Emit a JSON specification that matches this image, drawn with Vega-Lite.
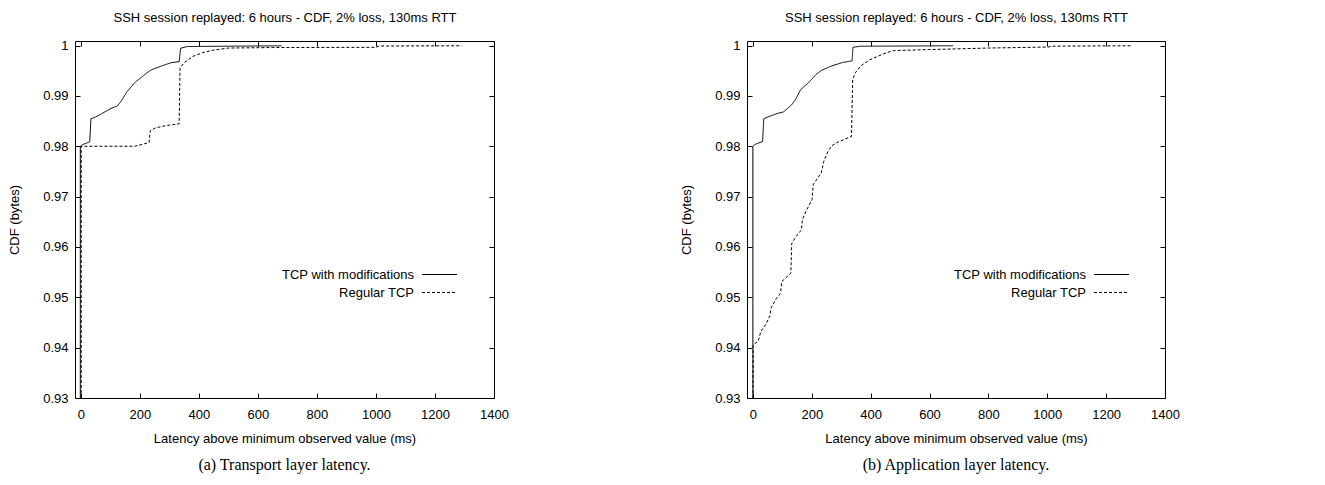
{
  "$schema": "https://vega.github.io/schema/vega-lite/v6.json",
  "background": "white",
  "padding": {"left": 8, "top": 11, "right": 5, "bottom": 5},
  "config": {
    "font": "Liberation Sans",
    "view": {"stroke": "black", "strokeWidth": 1},
    "axis": {"domain": false, "grid": false, "tickColor": "black", "tickSize": -5, "tickWidth": 1, "labelColor": "black", "labelFontSize": 13, "labelFont": "Liberation Sans", "titleFont": "Liberation Sans", "titleFontSize": 13, "titleFontWeight": "normal", "titleColor": "black", "labelFlush": false, "labelOverlap": false},
    "title": {"font": "Liberation Serif", "fontSize": 16, "fontWeight": "normal", "color": "black"},
    "legend": {"orient": "none", "padding": 0, "symbolType": "M-2.5,0H2.5", "symbolSize": 196, "symbolStrokeColor": "black", "symbolStrokeWidth": 1, "symbolFillColor": "transparent", "labelAlign": "right", "labelOffset": -33, "labelFontSize": 13, "labelFont": "Liberation Sans", "labelColor": "black", "rowPadding": 3, "title": null}
  },
  "datasets": {
    "cdf": [
      {"panel": "a", "series": "TCP with modifications", "i": 1, "latency": -2, "cdf": 0.93},
      {"panel": "a", "series": "TCP with modifications", "i": 2, "latency": -2, "cdf": 0.98},
      {"panel": "a", "series": "TCP with modifications", "i": 3, "latency": 5, "cdf": 0.9803},
      {"panel": "a", "series": "TCP with modifications", "i": 4, "latency": 30, "cdf": 0.98088},
      {"panel": "a", "series": "TCP with modifications", "i": 5, "latency": 34, "cdf": 0.98547},
      {"panel": "a", "series": "TCP with modifications", "i": 6, "latency": 50, "cdf": 0.9858},
      {"panel": "a", "series": "TCP with modifications", "i": 7, "latency": 71, "cdf": 0.98649},
      {"panel": "a", "series": "TCP with modifications", "i": 8, "latency": 102, "cdf": 0.9875},
      {"panel": "a", "series": "TCP with modifications", "i": 9, "latency": 124, "cdf": 0.988},
      {"panel": "a", "series": "TCP with modifications", "i": 10, "latency": 138, "cdf": 0.9891},
      {"panel": "a", "series": "TCP with modifications", "i": 11, "latency": 156, "cdf": 0.9908},
      {"panel": "a", "series": "TCP with modifications", "i": 12, "latency": 182, "cdf": 0.9926},
      {"panel": "a", "series": "TCP with modifications", "i": 13, "latency": 218, "cdf": 0.9943},
      {"panel": "a", "series": "TCP with modifications", "i": 14, "latency": 236, "cdf": 0.9951},
      {"panel": "a", "series": "TCP with modifications", "i": 15, "latency": 271, "cdf": 0.9959},
      {"panel": "a", "series": "TCP with modifications", "i": 16, "latency": 307, "cdf": 0.9966},
      {"panel": "a", "series": "TCP with modifications", "i": 17, "latency": 333, "cdf": 0.9968},
      {"panel": "a", "series": "TCP with modifications", "i": 18, "latency": 338, "cdf": 0.99946},
      {"panel": "a", "series": "TCP with modifications", "i": 19, "latency": 360, "cdf": 0.9998},
      {"panel": "a", "series": "TCP with modifications", "i": 20, "latency": 680, "cdf": 0.99995},
      {"panel": "a", "series": "Regular TCP", "i": 1, "latency": 1, "cdf": 0.93},
      {"panel": "a", "series": "Regular TCP", "i": 2, "latency": 1, "cdf": 0.98},
      {"panel": "a", "series": "Regular TCP", "i": 3, "latency": 182, "cdf": 0.98},
      {"panel": "a", "series": "Regular TCP", "i": 4, "latency": 209, "cdf": 0.9804},
      {"panel": "a", "series": "Regular TCP", "i": 5, "latency": 231, "cdf": 0.98074},
      {"panel": "a", "series": "Regular TCP", "i": 6, "latency": 235, "cdf": 0.9831},
      {"panel": "a", "series": "Regular TCP", "i": 7, "latency": 253, "cdf": 0.98365},
      {"panel": "a", "series": "Regular TCP", "i": 8, "latency": 289, "cdf": 0.9841},
      {"panel": "a", "series": "Regular TCP", "i": 9, "latency": 333, "cdf": 0.98446},
      {"panel": "a", "series": "Regular TCP", "i": 10, "latency": 336, "cdf": 0.99561},
      {"panel": "a", "series": "Regular TCP", "i": 11, "latency": 351, "cdf": 0.99662},
      {"panel": "a", "series": "Regular TCP", "i": 12, "latency": 378, "cdf": 0.9978},
      {"panel": "a", "series": "Regular TCP", "i": 13, "latency": 413, "cdf": 0.9986},
      {"panel": "a", "series": "Regular TCP", "i": 14, "latency": 450, "cdf": 0.9991},
      {"panel": "a", "series": "Regular TCP", "i": 15, "latency": 500, "cdf": 0.9995},
      {"panel": "a", "series": "Regular TCP", "i": 16, "latency": 650, "cdf": 0.9996},
      {"panel": "a", "series": "Regular TCP", "i": 17, "latency": 1000, "cdf": 0.99965},
      {"panel": "a", "series": "Regular TCP", "i": 18, "latency": 1010, "cdf": 0.9999},
      {"panel": "a", "series": "Regular TCP", "i": 19, "latency": 1290, "cdf": 0.99995},
      {"panel": "b", "series": "TCP with modifications", "i": 1, "latency": 0, "cdf": 0.93},
      {"panel": "b", "series": "TCP with modifications", "i": 2, "latency": 0, "cdf": 0.98},
      {"panel": "b", "series": "TCP with modifications", "i": 3, "latency": 5, "cdf": 0.9803},
      {"panel": "b", "series": "TCP with modifications", "i": 4, "latency": 33, "cdf": 0.98095},
      {"panel": "b", "series": "TCP with modifications", "i": 5, "latency": 37, "cdf": 0.98547},
      {"panel": "b", "series": "TCP with modifications", "i": 6, "latency": 50, "cdf": 0.9858},
      {"panel": "b", "series": "TCP with modifications", "i": 7, "latency": 82, "cdf": 0.98649},
      {"panel": "b", "series": "TCP with modifications", "i": 8, "latency": 104, "cdf": 0.98682},
      {"panel": "b", "series": "TCP with modifications", "i": 9, "latency": 131, "cdf": 0.98818},
      {"panel": "b", "series": "TCP with modifications", "i": 10, "latency": 144, "cdf": 0.9892},
      {"panel": "b", "series": "TCP with modifications", "i": 11, "latency": 162, "cdf": 0.99122},
      {"panel": "b", "series": "TCP with modifications", "i": 12, "latency": 188, "cdf": 0.99257},
      {"panel": "b", "series": "TCP with modifications", "i": 13, "latency": 215, "cdf": 0.99426},
      {"panel": "b", "series": "TCP with modifications", "i": 14, "latency": 233, "cdf": 0.99507},
      {"panel": "b", "series": "TCP with modifications", "i": 15, "latency": 268, "cdf": 0.99595},
      {"panel": "b", "series": "TCP with modifications", "i": 16, "latency": 304, "cdf": 0.99662},
      {"panel": "b", "series": "TCP with modifications", "i": 17, "latency": 337, "cdf": 0.99696},
      {"panel": "b", "series": "TCP with modifications", "i": 18, "latency": 340, "cdf": 0.99966},
      {"panel": "b", "series": "TCP with modifications", "i": 19, "latency": 366, "cdf": 0.99986},
      {"panel": "b", "series": "TCP with modifications", "i": 20, "latency": 680, "cdf": 0.99995},
      {"panel": "b", "series": "Regular TCP", "i": 1, "latency": 1, "cdf": 0.93},
      {"panel": "b", "series": "Regular TCP", "i": 2, "latency": 1, "cdf": 0.94053},
      {"panel": "b", "series": "Regular TCP", "i": 3, "latency": 18, "cdf": 0.9413},
      {"panel": "b", "series": "Regular TCP", "i": 4, "latency": 27, "cdf": 0.9432},
      {"panel": "b", "series": "Regular TCP", "i": 5, "latency": 45, "cdf": 0.9447},
      {"panel": "b", "series": "Regular TCP", "i": 6, "latency": 58, "cdf": 0.9464},
      {"panel": "b", "series": "Regular TCP", "i": 7, "latency": 62, "cdf": 0.9479},
      {"panel": "b", "series": "Regular TCP", "i": 8, "latency": 80, "cdf": 0.9498},
      {"panel": "b", "series": "Regular TCP", "i": 9, "latency": 94, "cdf": 0.9508},
      {"panel": "b", "series": "Regular TCP", "i": 10, "latency": 98, "cdf": 0.9531},
      {"panel": "b", "series": "Regular TCP", "i": 11, "latency": 116, "cdf": 0.9541},
      {"panel": "b", "series": "Regular TCP", "i": 12, "latency": 129, "cdf": 0.9548},
      {"panel": "b", "series": "Regular TCP", "i": 13, "latency": 132, "cdf": 0.9607},
      {"panel": "b", "series": "Regular TCP", "i": 14, "latency": 147, "cdf": 0.9621},
      {"panel": "b", "series": "Regular TCP", "i": 15, "latency": 165, "cdf": 0.9634},
      {"panel": "b", "series": "Regular TCP", "i": 16, "latency": 168, "cdf": 0.9654},
      {"panel": "b", "series": "Regular TCP", "i": 17, "latency": 183, "cdf": 0.9674},
      {"panel": "b", "series": "Regular TCP", "i": 18, "latency": 201, "cdf": 0.9694},
      {"panel": "b", "series": "Regular TCP", "i": 19, "latency": 205, "cdf": 0.9724},
      {"panel": "b", "series": "Regular TCP", "i": 20, "latency": 232, "cdf": 0.9747},
      {"panel": "b", "series": "Regular TCP", "i": 21, "latency": 241, "cdf": 0.977},
      {"panel": "b", "series": "Regular TCP", "i": 22, "latency": 255, "cdf": 0.979},
      {"panel": "b", "series": "Regular TCP", "i": 23, "latency": 268, "cdf": 0.9801},
      {"panel": "b", "series": "Regular TCP", "i": 24, "latency": 286, "cdf": 0.98074},
      {"panel": "b", "series": "Regular TCP", "i": 25, "latency": 313, "cdf": 0.98142},
      {"panel": "b", "series": "Regular TCP", "i": 26, "latency": 335, "cdf": 0.98196},
      {"panel": "b", "series": "Regular TCP", "i": 27, "latency": 339, "cdf": 0.99324},
      {"panel": "b", "series": "Regular TCP", "i": 28, "latency": 348, "cdf": 0.99459},
      {"panel": "b", "series": "Regular TCP", "i": 29, "latency": 366, "cdf": 0.99595},
      {"panel": "b", "series": "Regular TCP", "i": 30, "latency": 397, "cdf": 0.99716},
      {"panel": "b", "series": "Regular TCP", "i": 31, "latency": 420, "cdf": 0.99776},
      {"panel": "b", "series": "Regular TCP", "i": 32, "latency": 455, "cdf": 0.9986},
      {"panel": "b", "series": "Regular TCP", "i": 33, "latency": 480, "cdf": 0.999},
      {"panel": "b", "series": "Regular TCP", "i": 34, "latency": 600, "cdf": 0.9992},
      {"panel": "b", "series": "Regular TCP", "i": 35, "latency": 800, "cdf": 0.9995},
      {"panel": "b", "series": "Regular TCP", "i": 36, "latency": 1000, "cdf": 0.9997},
      {"panel": "b", "series": "Regular TCP", "i": 37, "latency": 1025, "cdf": 0.99988},
      {"panel": "b", "series": "Regular TCP", "i": 38, "latency": 1284, "cdf": 0.99995}
    ]
  },
  "spacing": 171,
  "resolve": {"scale": {"strokeDash": "independent"}, "legend": {"strokeDash": "independent"}},
  "hconcat": [
    {
      "title": {"text": "(a) Transport layer latency.", "orient": "bottom", "anchor": "middle", "frame": "group", "offset": 12},
      "width": 419,
      "height": 357,
      "data": {"name": "cdf"},
      "transform": [{"filter": "datum.panel === 'a'"}],
      "layer": [
        {
          "mark": {"type": "line", "color": "black", "strokeWidth": 1},
          "encoding": {
            "x": {"field": "latency", "type": "quantitative", "scale": {"domain": [-20, 1400], "nice": false, "zero": false}, "axis": {"orient": "bottom", "values": [0, 200, 400, 600, 800, 1000, 1200, 1400], "format": "d", "labelPadding": 15, "title": "Latency above minimum observed value (ms)", "titlePadding": 11}},
            "y": {"field": "cdf", "type": "quantitative", "scale": {"domain": [0.93, 1.0009], "nice": false, "zero": false}, "axis": {"orient": "left", "values": [0.93, 0.94, 0.95, 0.96, 0.97, 0.98, 0.99, 1], "format": ".2~f", "labelPadding": 12, "title": "CDF (bytes)", "titlePadding": 21}},
            "strokeDash": {"field": "series", "type": "nominal", "scale": {"domain": ["TCP with modifications", "Regular TCP"], "range": [[1, 0], [3, 2]]}, "legend": {"legendX": 357, "legendY": 226}},
            "order": {"field": "i", "type": "quantitative"}
          }
        },
        {
          "mark": {"type": "point", "opacity": 0},
          "encoding": {
            "x": {"field": "latency", "type": "quantitative", "axis": {"orient": "top", "values": [0, 200, 400, 600, 800, 1000, 1200, 1400], "labels": false, "title": "SSH session replayed: 6 hours - CDF, 2% loss, 130ms RTT", "titleFontSize": 13, "titlePadding": 16}},
            "y": {"field": "cdf", "type": "quantitative", "axis": {"orient": "right", "values": [0.93, 0.94, 0.95, 0.96, 0.97, 0.98, 0.99, 1], "labels": false, "title": null}}
          }
        }
      ],
      "resolve": {"axis": {"x": "independent", "y": "independent"}}
    },
    {
      "title": {"text": "(b) Application layer latency.", "orient": "bottom", "anchor": "middle", "frame": "group", "offset": 12},
      "width": 418,
      "height": 357,
      "data": {"name": "cdf"},
      "transform": [{"filter": "datum.panel === 'b'"}],
      "layer": [
        {
          "mark": {"type": "line", "color": "black", "strokeWidth": 1},
          "encoding": {
            "x": {"field": "latency", "type": "quantitative", "scale": {"domain": [-20, 1400], "nice": false, "zero": false}, "axis": {"orient": "bottom", "values": [0, 200, 400, 600, 800, 1000, 1200, 1400], "format": "d", "labelPadding": 15, "title": "Latency above minimum observed value (ms)", "titlePadding": 11}},
            "y": {"field": "cdf", "type": "quantitative", "scale": {"domain": [0.93, 1.0009], "nice": false, "zero": false}, "axis": {"orient": "left", "values": [0.93, 0.94, 0.95, 0.96, 0.97, 0.98, 0.99, 1], "format": ".2~f", "labelPadding": 12, "title": "CDF (bytes)", "titlePadding": 21}},
            "strokeDash": {"field": "series", "type": "nominal", "scale": {"domain": ["TCP with modifications", "Regular TCP"], "range": [[1, 0], [3, 2]]}, "legend": {"legendX": 357, "legendY": 226}},
            "order": {"field": "i", "type": "quantitative"}
          }
        },
        {
          "mark": {"type": "point", "opacity": 0},
          "encoding": {
            "x": {"field": "latency", "type": "quantitative", "axis": {"orient": "top", "values": [0, 200, 400, 600, 800, 1000, 1200, 1400], "labels": false, "title": "SSH session replayed: 6 hours - CDF, 2% loss, 130ms RTT", "titleFontSize": 13, "titlePadding": 16}},
            "y": {"field": "cdf", "type": "quantitative", "axis": {"orient": "right", "values": [0.93, 0.94, 0.95, 0.96, 0.97, 0.98, 0.99, 1], "labels": false, "title": null}}
          }
        }
      ],
      "resolve": {"axis": {"x": "independent", "y": "independent"}}
    }
  ]
}
